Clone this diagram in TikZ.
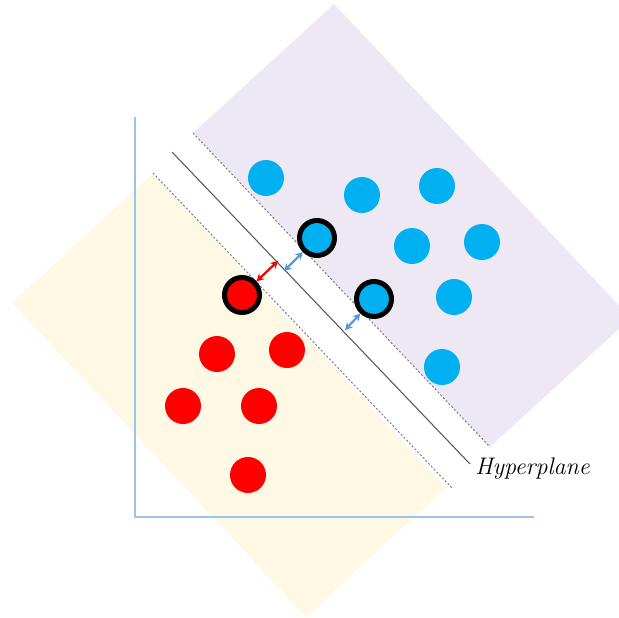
\documentclass[tikz,border=0pt]{standalone}
\usetikzlibrary{arrows.meta}
\definecolor{classA}{HTML}{00B0F0}
\definecolor{classB}{HTML}{FF0000}
\definecolor{regionA}{HTML}{EEE8F4}
\definecolor{regionB}{HTML}{FFF8E5}
\definecolor{axiscol}{HTML}{9DC3E6}
\definecolor{margincol}{HTML}{5B9BD5}
\definecolor{linecol}{HTML}{595959}
\definecolor{dashcol}{HTML}{767676}
\tikzset{
  pt/.style={circle, inner sep=0pt, minimum size=27pt},
  bluept/.style={pt, fill=classA},
  redpt/.style={pt, fill=classB},
  support/.style={circle, inner sep=0pt, minimum size=26.25pt, draw=black, line width=3.75pt},
  axisline/.style={draw=axiscol, line width=0.9pt},
  marginline/.style={draw=dashcol, line width=0.7pt, dash pattern=on 1.5pt off 1.5pt},
  hyper/.style={draw=linecol, line width=0.8pt},
  gap/.style={line width=1.7pt, {Stealth[length=5.5pt,width=6pt]}-{Stealth[length=5.5pt,width=6pt]}},
}
\begin{document}
\begin{tikzpicture}[x=0.75pt, y=-0.75pt]
\useasboundingbox (0,0) rectangle (619,618);
\begin{scope}
\clip (0,0) rectangle (619,618);
% shaded half-planes of the two classes
\fill[regionA] (193,133) -- (334,4) -- (631,318) -- (490,447) -- cycle;
\fill[regionB] (153,173) -- (12,303) -- (306,617) -- (446,488) -- cycle;
\end{scope}
% axes
\draw[axisline] (135,117) -- (135,517) -- (534,517);
% separating hyperplane and margins
\coordinate (h1) at (172,152);
\coordinate (h2) at (470,464);
\coordinate (u1) at (193,133);
\coordinate (u2) at (490,447);
\coordinate (l1) at (153,173);
\coordinate (l2) at (452,488);
\draw[hyper] (h1) -- (h2);
\draw[marginline] (u1) -- (u2);
\draw[marginline] (l1) -- (l2);
\node[font=\fontsize{18}{21}\selectfont\itshape, anchor=west, inner sep=0pt] (label) at (475,469) {Hyperplane};
% class A points
\node[bluept] (b1) at (266,178) {};
\node[bluept] (b2) at (362,195) {};
\node[bluept] (b3) at (437,186) {};
\node[bluept] (b4) at (412,246) {};
\node[bluept] (b5) at (482,242) {};
\node[bluept] (b6) at (454,297) {};
\node[bluept] (b7) at (442,367) {};
\node[bluept, support] (s1) at (317,238) {};
\node[bluept, support] (s2) at (374,299) {};
% class B points
\node[redpt] (r1) at (217,354) {};
\node[redpt] (r2) at (287,350) {};
\node[redpt] (r3) at (183,406) {};
\node[redpt] (r4) at (259,406) {};
\node[redpt] (r5) at (248,475) {};
\node[redpt, support] (s3) at (242,295) {};
% margin distances
\coordinate (m1) at (278,261);
\coordinate (m2) at (284,271);
\coordinate (m3) at (345,330);
\draw[gap, draw=classB, color=classB] (s3) -- (m1);
\draw[gap, draw=margincol, color=margincol] (m2) -- (s1);
\draw[gap, draw=margincol, color=margincol] (m3) -- (s2);
\end{tikzpicture}
\end{document}
